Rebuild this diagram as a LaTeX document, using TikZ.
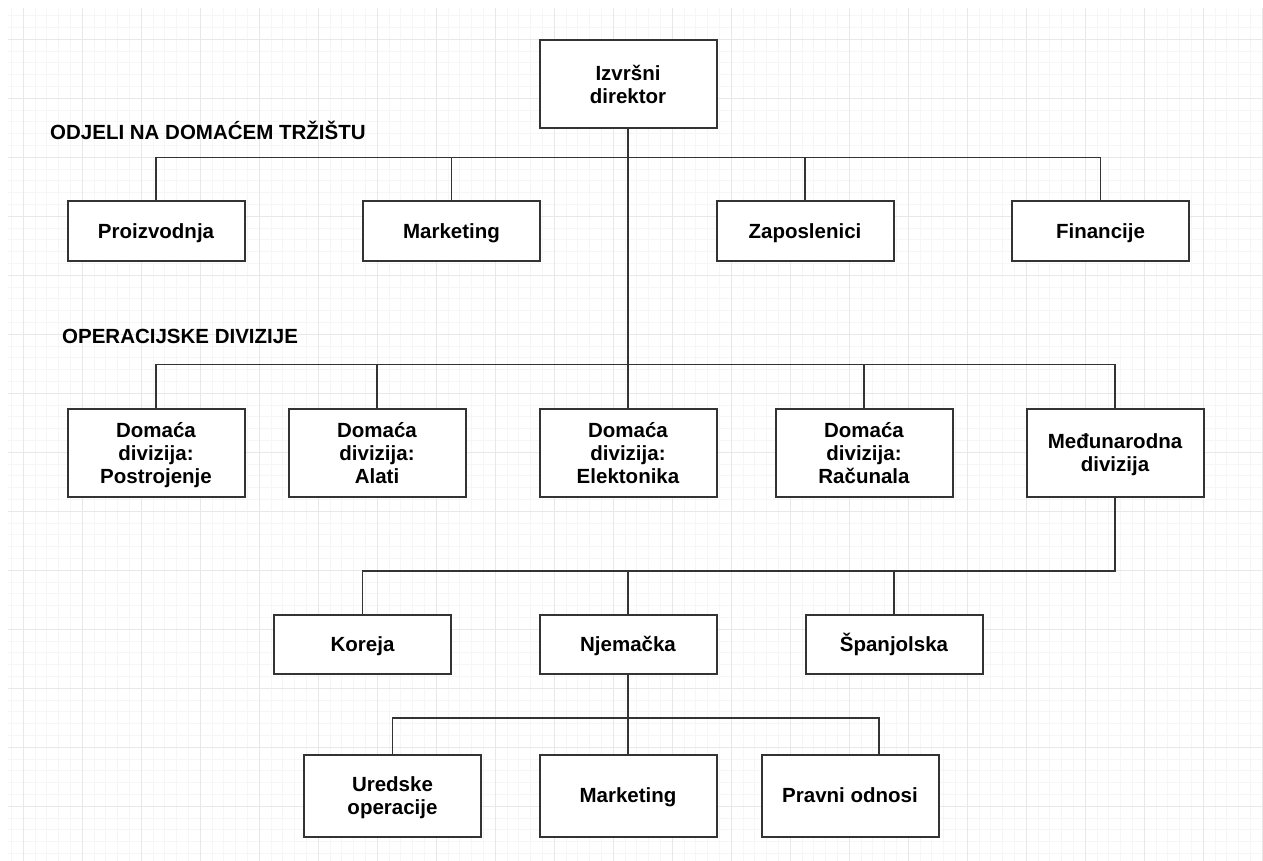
\documentclass[tikz,border=0pt]{standalone}
\usepackage{fontspec}
\setmainfont{Liberation Sans}
\usetikzlibrary{positioning}
\definecolor{linegray}{HTML}{333333}
\definecolor{gridmajor}{HTML}{E8E8E8}
\definecolor{gridminor}{HTML}{F6F6F6}
\tikzstyle{unit}=[draw=linegray,line width=2pt,fill=white,minimum width=177pt,minimum height=59pt,inner sep=2pt,text depth=0pt,align=center,font=\bfseries\fontsize{20.5}{23}\selectfont]
\tikzstyle{oneline}=[unit,text height=15pt]
\tikzstyle{tallunit}=[unit,minimum height=88pt]
\tikzstyle{lowunit}=[unit,minimum height=82pt]
\tikzstyle{heading}=[anchor=west,inner sep=0pt,font=\bfseries\fontsize{20.5}{23}\selectfont]
\tikzstyle{link}=[draw=linegray,line width=1.8pt]
\tikzstyle{minorgrid}=[draw=gridminor,line width=1pt]
\tikzstyle{majorgrid}=[draw=gridmajor,line width=1.2pt]

\begin{document}
\begin{tikzpicture}[x=1pt,y=-1pt]
    \useasboundingbox (0,0) rectangle (1263,861);
    % Background grid
    \foreach \i in {0,...,106}
        \draw[minorgrid] ({11.5+11.8*\i},8) -- ({11.5+11.8*\i},861);
    \foreach \i in {0,...,71}
        \draw[minorgrid] (8,{15.7+11.8*\i}) -- (1263,{15.7+11.8*\i});
    \foreach \i in {0,...,21}
        \draw[majorgrid] ({23.3+59*\i},8) -- ({23.3+59*\i},861);
    \foreach \i in {0,...,13}
        \draw[majorgrid] (8,{39.3+59*\i}) -- (1263,{39.3+59*\i});

    % Headings
    \node[heading] (hdomestic) at (50,130) {ODJELI NA DOMAĆEM TRŽIŠTU};
    \node[heading] (hdivisions) at (62,336) {OPERACIJSKE DIVIZIJE};

    % First we draw the units
    \node[tallunit] (dir) at (628,84) {Izvršni\\direktor};
    \foreach \pos/\name/\text in {{(156,231)/proizvodnja/Proizvodnja}, {(451.5,231)/marketing/Marketing}, {(805,231)/zaposlenici/Zaposlenici}, {(1100.5,231)/financije/Financije}}
        \node[oneline] (\name) at \pos {\text};
    \foreach \pos/\name/\text in {{(156,452.5)/postrojenje/{Domaća\\divizija:\\Postrojenje}}, {(377,452.5)/alati/{Domaća\\divizija:\\Alati}}, {(628,452.5)/elektonika/{Domaća\\divizija:\\Elektonika}}, {(864,452.5)/racunala/{Domaća\\divizija:\\Računala}}, {(1115,452.5)/medjunarodna/{Međunarodna\\divizija}}}
        \node[tallunit] (\name) at \pos {\text};
    \foreach \pos/\name/\text in {{(362.5,644)/koreja/Koreja}, {(628,644)/njemacka/Njemačka}, {(894,644)/spanjolska/Španjolska}}
        \node[oneline] (\name) at \pos {\text};
    \foreach \pos/\name/\text in {{(392.5,795.5)/uredske/{Uredske\\operacije}}, {(628,795.5)/marketingde/Marketing}, {(850,795.5)/pravni/Pravni odnosi}}
        \node[lowunit] (\name) at \pos {\text};

    % Levels of the bars
    \coordinate (bar1) at (0,157.5);
    \coordinate (bar2) at (0,364.5);
    \coordinate (bar3) at (0,570.7);
    \coordinate (bar4) at (0,718.3);

    % Connect units
    \path[link] (dir.south) -- (elektonika.north);
    \foreach \name in {proizvodnja, marketing, zaposlenici, financije}
        \path[link] (\name.north) |- (dir.south |- bar1);
    \foreach \name in {postrojenje, alati, racunala, medjunarodna}
        \path[link] (\name.north) |- (dir.south |- bar2);
    \path[link] (medjunarodna.south) |- (koreja.north |- bar3) -- (koreja.north);
    \foreach \name in {njemacka, spanjolska}
        \path[link] (\name.north) -- (\name.north |- bar3);
    \path[link] (njemacka.south) -- (marketingde.north);
    \path[link] (uredske.north) |- (njemacka.south |- bar4);
    \path[link] ([xshift=29pt]pravni.north) |- (njemacka.south |- bar4);
\end{tikzpicture}
\end{document}
